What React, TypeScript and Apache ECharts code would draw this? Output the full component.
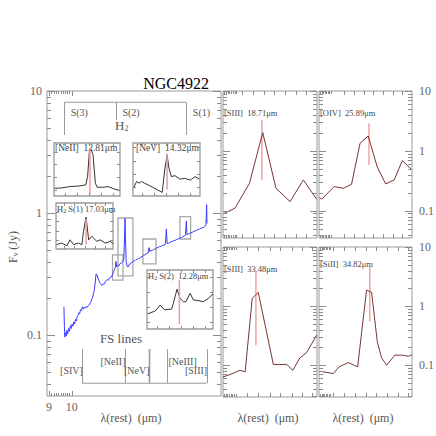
import { useEffect, useRef } from "react";
import * as echarts from "echarts";

const FONT = "'Liberation Serif', 'DejaVu Serif', serif";
const TICK = "#8c8c8c";
const BORDER = "#9a9a9a";
const LABEL = "#666";

// ---------- main IRS spectrum: [rest wavelength (um), F_nu (Jy)]
const spectrum: [number, number][] = [
  [9.65, 0.17], [9.67, 0.118], [9.69, 0.096], [9.72, 0.104], [9.75, 0.098], [9.78, 0.109], [9.82, 0.102],
  [9.86, 0.113], [9.9, 0.107], [9.94, 0.119], [9.98, 0.113], [10.02, 0.123], [10.06, 0.118], [10.1, 0.128],
  [10.14, 0.123], [10.18, 0.134], [10.22, 0.13], [10.26, 0.141], [10.3, 0.144], [10.34, 0.152], [10.38, 0.149],
  [10.42, 0.161], [10.46, 0.158], [10.51, 0.17], [10.55, 0.163], [10.6, 0.169], [10.65, 0.166], [10.7, 0.171],
  [10.75, 0.168], [10.8, 0.174], [10.85, 0.176], [10.9, 0.183], [10.95, 0.189], [11.0, 0.199], [11.05, 0.21],
  [11.1, 0.229], [11.15, 0.262], [11.2, 0.316], [11.25, 0.312], [11.3, 0.293], [11.35, 0.28], [11.4, 0.268],
  [11.45, 0.263], [11.5, 0.255], [11.55, 0.257], [11.6, 0.264], [11.65, 0.262], [11.7, 0.275], [11.75, 0.281],
  [11.8, 0.284], [11.85, 0.28], [11.9, 0.291], [11.95, 0.294], [12.0, 0.302], [12.05, 0.3], [12.1, 0.318],
  [12.15, 0.332], [12.2, 0.344], [12.25, 0.358], [12.28, 0.4], [12.32, 0.362], [12.38, 0.371], [12.45, 0.368],
  [12.52, 0.385], [12.6, 0.389], [12.68, 0.399], [12.74, 0.42], [12.78, 0.6], [12.81, 0.905], [12.84, 0.62],
  [12.88, 0.4], [12.94, 0.364], [13.0, 0.361], [13.06, 0.379], [13.12, 0.38], [13.18, 0.392], [13.25, 0.394],
  [13.32, 0.404], [13.4, 0.406], [13.48, 0.416], [13.56, 0.415], [13.64, 0.424], [13.72, 0.426], [13.8, 0.438],
  [13.88, 0.44], [13.96, 0.45], [14.04, 0.452], [14.12, 0.462], [14.2, 0.466], [14.26, 0.472], [14.32, 0.52],
  [14.37, 0.484], [14.45, 0.492], [14.55, 0.493], [14.65, 0.504], [14.75, 0.508], [14.85, 0.518], [14.95, 0.522],
  [15.05, 0.532], [15.15, 0.534], [15.25, 0.542], [15.35, 0.546], [15.45, 0.555], [15.52, 0.74], [15.58, 0.56],
  [15.68, 0.563], [15.8, 0.577], [15.92, 0.58], [16.04, 0.592], [16.16, 0.596], [16.28, 0.607], [16.4, 0.612],
  [16.52, 0.624], [16.64, 0.628], [16.76, 0.642], [16.88, 0.646], [16.96, 0.662], [17.03, 0.86], [17.08, 0.666],
  [17.2, 0.67], [17.35, 0.687], [17.5, 0.693], [17.65, 0.71], [17.8, 0.716], [17.95, 0.73], [18.1, 0.738],
  [18.25, 0.754], [18.4, 0.758], [18.55, 0.774], [18.65, 0.8], [18.71, 1.17], [18.74, 0.82],
];

// ---------- line identifications
const h2Names = ["S(3)", "S(2)", "S(1)"];
const h2Wl = [9.66, 12.28, 17.03];
const fsNames = ["[SIV]", "[NeII]", "[NeV]", "[NeIII]", "[SIII]"];
const fsWl = [10.51, 12.81, 14.32, 15.56, 18.71];

// ---------- extraction boxes drawn on the main spectrum
const boxWlLo = [12.09, 12.4, 13.92, 16.53];
const boxWlHi = [12.69, 13.29, 14.79, 17.37];
const boxFluxLo = [0.282, 0.305, 0.382, 0.612];
const boxFluxHi = [0.453, 0.91, 0.612, 0.933];

// ---------- inset profiles (main panel)
const neIIWl = [12.22, 12.33, 12.47, 12.64, 12.74, 12.77, 12.8, 12.82, 12.86, 12.9, 12.93, 13.03, 13.11, 13.2, 13.31];
const neIIFlux = [0.42, 0.424, 0.44, 0.448, 0.46, 0.557, 0.852, 0.891, 0.812, 0.479, 0.432, 0.432, 0.44, 0.416, 0.393];
const neVWl = [13.77, 13.82, 13.86, 13.9, 13.95, 14.01, 14.08, 14.16, 14.24, 14.28, 14.32, 14.35, 14.39, 14.45, 14.53, 14.61, 14.7, 14.78, 14.85];
const neVFlux = [0.458, 0.473, 0.469, 0.473, 0.469, 0.465, 0.46, 0.454, 0.448, 0.499, 0.533, 0.503, 0.484, 0.486, 0.478, 0.48, 0.476, 0.484, 0.478];
const h2s1Wl = [16.46, 16.56, 16.66, 16.72, 16.79, 16.88, 16.95, 16.98, 17.03, 17.08, 17.14, 17.24, 17.3, 17.4, 17.5, 17.55];
const h2s1Flux = [0.699, 0.706, 0.694, 0.72, 0.699, 0.706, 0.699, 0.755, 0.819, 0.72, 0.735, 0.713, 0.72, 0.706, 0.713, 0.703];
const h2s2Wl = [11.75, 11.88, 11.96, 12.03, 12.15, 12.18, 12.24, 12.29, 12.35, 12.39, 12.46, 12.51, 12.59, 12.68, 12.76, 12.84];
const h2s2Flux = [0.341, 0.349, 0.365, 0.352, 0.354, 0.37, 0.408, 0.383, 0.374, 0.374, 0.397, 0.379, 0.377, 0.374, 0.383, 0.395];

// ---------- right-hand panels
const sIII19Wl = [17.8, 18.08, 18.42, 18.73, 19.04, 19.37, 19.68, 19.99];
const sIII19Flux = [0.0885, 0.11, 0.288, 2.02, 0.237, 0.142, 0.327, 0.156];
const oIVWl = [24.61, 24.67, 24.99, 25.23, 25.44, 25.66, 25.87, 26.1, 26.32, 26.54, 26.75, 27.0];
const oIVFlux = [0.166, 0.156, 0.253, 0.237, 0.277, 1.34, 1.77, 0.545, 0.28, 0.327, 0.687, 0.48];
const sIII33Wl = [32.5, 32.71, 33.01, 33.16, 33.37, 33.55, 34.0, 34.4, 34.58, 34.79, 34.99, 35.29];
const sIII33Flux = [0.0634, 0.0695, 0.0822, 0.0771, 1.35, 1.71, 0.103, 0.103, 0.0822, 0.133, 0.164, 0.322];
const siIIWl = [33.43, 33.8, 33.96, 34.22, 34.48, 34.73, 34.87, 35.03, 35.15, 35.29, 35.52, 35.73, 35.9, 36.0];
const siIIFlux = [0.0791, 0.0723, 0.0937, 0.111, 0.0937, 1.87, 1.71, 0.248, 0.133, 0.1, 0.148, 0.148, 0.142, 0.15];

// ---------- tick values
const logMajor = [0.1, 1, 10];
const logMinor = [0.03, 0.04, 0.05, 0.06, 0.07, 0.08, 0.09, 0.2, 0.3, 0.4, 0.5, 0.6, 0.7, 0.8, 0.9, 2, 3, 4, 5, 6, 7, 8, 9];
const mainXMajor = [9, 10];
const mainXMinor = [9.1, 9.2, 9.3, 9.4, 9.5, 9.6, 9.7, 9.8, 9.9];
const mainXLabels = ["9", "10"];
const mainYLabels = ["0.1", "1", "10"];

type Panel = {
  rect: number[]; xType: string; xMin: number; xMax: number; yType: string; yMin: number; yMax: number;
  bg?: string; xTicks: number[]; xBlock: number[]; yTicks: number[];
};

const panels: Panel[] = [
  { rect: [47, 91, 174, 305], xType: "log", xMin: 8.92, xMax: 20, yType: "log", yMin: 0.0316, yMax: 10, xTicks: [], xBlock: [], yTicks: [] },
  { rect: [54, 143, 66, 53], xType: "value", xMin: 12.21, xMax: 13.31, yType: "value", yMin: 0.33, yMax: 0.95, bg: "#fff", xTicks: [12.4, 12.6, 12.8, 13.0, 13.2], xBlock: [], yTicks: [0.4, 0.55, 0.7, 0.85] },
  { rect: [133, 143, 67, 53], xType: "value", xMin: 13.76, xMax: 14.86, yType: "value", yMin: 0.44, yMax: 0.56, bg: "#fff", xTicks: [13.9, 14.1, 14.3, 14.5, 14.7], xBlock: [], yTicks: [0.46, 0.49, 0.52, 0.55] },
  { rect: [56, 203, 57, 46], xType: "value", xMin: 16.45, xMax: 17.55, yType: "value", yMin: 0.68, yMax: 0.88, bg: "#fff", xTicks: [16.6, 16.8, 17.0, 17.2, 17.4], xBlock: [], yTicks: [0.72, 0.76, 0.8, 0.84] },
  { rect: [147, 270, 66, 59], xType: "value", xMin: 11.74, xMax: 12.84, yType: "value", yMin: 0.3, yMax: 0.46, bg: "#fff", xTicks: [11.9, 12.1, 12.3, 12.5, 12.7], xBlock: [], yTicks: [0.32, 0.36, 0.4, 0.44] },
  { rect: [223, 91, 94, 147], xType: "value", xMin: 17.8, xMax: 20.0, yType: "log", yMin: 0.035, yMax: 10, xTicks: [18.25, 18.5, 18.75, 19.0, 19.25, 19.5, 19.75], xBlock: [17.83, 17.87, 17.91, 17.95, 17.99, 18.03, 18.07, 18.11], yTicks: [] },
  { rect: [319, 91, 93, 147], xType: "value", xMin: 24.6, xMax: 27.0, yType: "log", yMin: 0.035, yMax: 10, xTicks: [25.25, 25.5, 25.75, 26.0, 26.25, 26.5, 26.75], xBlock: [24.63, 24.67, 24.71, 24.75, 24.79, 24.83, 24.87, 24.91], yTicks: [] },
  { rect: [223, 247, 94, 150], xType: "value", xMin: 32.5, xMax: 35.3, yType: "log", yMin: 0.029, yMax: 10, xTicks: [33.2, 33.55, 33.9, 34.2, 34.55, 34.85, 35.15], xBlock: [32.53, 32.58, 32.63, 32.68, 32.73, 32.78, 32.83, 32.88], yTicks: [] },
  { rect: [319, 247, 93, 150], xType: "value", xMin: 33.4, xMax: 36.0, yType: "log", yMin: 0.029, yMax: 10, xTicks: [33.8, 34.1, 34.4, 34.7, 35.0, 35.3, 35.6, 35.9], xBlock: [33.43, 33.47, 33.51, 33.55, 33.59, 33.63, 33.67, 33.71], yTicks: [] },
];

const txtStyle = (text: string, size: number, color: string, align: string, vAlign = "middle", extra: any = {}) => ({
  text, fill: color, font: `${size}px ${FONT}`, fontSize: size, fontFamily: FONT,
  align, textAlign: align, verticalAlign: vAlign, textVerticalAlign: vAlign, ...extra,
});

function tickSeries(gi: number, p: Panel, xt: number[][], yt: number[][]) {
  const data = xt.map((t) => [t[0], p.yMin, t[1], 0]).concat(yt.map((t) => [p.xMin, t[0], t[1], 1]));
  return {
    type: "custom", xAxisIndex: gi, yAxisIndex: gi, data, silent: true, z: 10, clip: false,
    renderItem: (params: any, api: any) => {
      const cs = params.coordSys;
      const pt = api.coord([api.value(0), api.value(1)]);
      const len = api.value(2);
      const style = { stroke: TICK, lineWidth: 1, fill: null };
      if (api.value(3) === 0) {
        const x = Math.round(pt[0]) + 0.5;
        const b = cs.y + cs.height;
        return { type: "group", children: [
          { type: "line", shape: { x1: x, y1: b, x2: x, y2: b - len }, style },
          { type: "line", shape: { x1: x, y1: cs.y, x2: x, y2: cs.y + len }, style },
        ] };
      }
      const y = Math.round(pt[1]) + 0.5;
      const r = cs.x + cs.width;
      return { type: "group", children: [
        { type: "line", shape: { x1: cs.x, y1: y, x2: cs.x + len, y2: y }, style },
        { type: "line", shape: { x1: r, y1: y, x2: r - len, y2: y }, style },
      ] };
    },
  };
}

// labels anchored to data coordinates; placed through chart.convertToPixel
type Lbl = { gi: number; v: number[]; text: string; dx: number; dy: number; align: string; size: number; color: string };

function lineSeries(gi: number, data: number[][], color: string, width: number, z = 3) {
  return {
    type: "line", xAxisIndex: gi, yAxisIndex: gi, data, showSymbol: false, symbol: "none", silent: true, z,
    lineStyle: { color, width }, clip: false,
  };
}

const zip = (a: number[], b: number[]) => a.map((v, i) => [v, b[i]]);

const H2_TOP = 8.08, H2_LAB = 6.71;
const h2Bottom = [4.36, 5.78, 4.36];
const FS_BOT = 0.0402, FS_TOP = 0.0768;
const fsLabelF = [0.0507, 0.0601, 0.0507, 0.0601, 0.0507];
const fsAlign = ["right", "right", "right", "left", "right"];

function buildOption() {
  const grid: any[] = [];
  const xAxis: any[] = [];
  const yAxis: any[] = [];
  const series: any[] = [];
  panels.forEach((p, i) => {
    grid.push({
      left: p.rect[0], top: p.rect[1], width: p.rect[2], height: p.rect[3], show: true,
      borderColor: BORDER, borderWidth: i >= 1 && i <= 4 ? 1.3 : 1, backgroundColor: p.bg || "transparent",
    });
    xAxis.push({ type: p.xType, gridIndex: i, min: p.xMin, max: p.xMax, show: false, logBase: 10 });
    yAxis.push({ type: p.yType, gridIndex: i, min: p.yMin, max: p.yMax, show: false, logBase: 10 });
  });

  // ---- main panel
  series.push(lineSeries(0, spectrum, "#3a3aff", 1, 4));
  series.push({
    type: "custom", xAxisIndex: 0, yAxisIndex: 0, silent: true, z: 3,
    data: boxWlLo.map((w, i) => [w, boxFluxLo[i], boxWlHi[i], boxFluxHi[i]]),
    encode: { x: [0, 2], y: [1, 3] },
    renderItem: (params: any, api: any) => {
      const a = api.coord([api.value(0), api.value(1)]);
      const b = api.coord([api.value(2), api.value(3)]);
      return { type: "rect", shape: { x: a[0], y: b[1], width: b[0] - a[0], height: a[1] - b[1] },
        style: { stroke: "#a8a8a8", lineWidth: 1.3, fill: null } };
    },
  });
  // H2 bracket
  series.push(lineSeries(0, [[h2Wl[0], H2_TOP], [h2Wl[h2Wl.length - 1], H2_TOP]], BORDER, 1));
  series.push({
    type: "custom", xAxisIndex: 0, yAxisIndex: 0, silent: true, z: 5,
    data: h2Wl.map((w) => [w, H2_TOP]),
    renderItem: (params: any, api: any) => {
      const i = params.dataIndex;
      const a = api.coord([h2Wl[i], H2_TOP]);
      const b = api.coord([h2Wl[i], h2Bottom[i]]);
      const x = Math.round(a[0]) + 0.5;
      return { type: "line", shape: { x1: x, y1: a[1], x2: x, y2: b[1] }, style: { stroke: BORDER, lineWidth: 1 } };
    },
  });
  // FS bracket
  series.push(lineSeries(0, [[fsWl[0], FS_BOT], [fsWl[fsWl.length - 1], FS_BOT]], BORDER, 1));
  series.push({
    type: "custom", xAxisIndex: 0, yAxisIndex: 0, silent: true, z: 5,
    data: fsWl.map((w) => [w, FS_BOT]),
    renderItem: (params: any, api: any) => {
      const i = params.dataIndex;
      const a = api.coord([fsWl[i], FS_BOT]);
      const b = api.coord([fsWl[i], FS_TOP]);
      const x = Math.round(a[0]) + 0.5;
      return { type: "line", shape: { x1: x, y1: a[1], x2: x, y2: b[1] }, style: { stroke: BORDER, lineWidth: i === 2 ? 1.6 : 1 } };
    },
  });

  // ---- insets
  const insetData = [
    { wl: neIIWl, fl: neIIFlux, c: 12.81, lo: 0.354, hi: 0.891 },
    { wl: neVWl, fl: neVFlux, c: 14.32, lo: 0.455, hi: 0.536 },
    { wl: h2s1Wl, fl: h2s1Flux, c: 17.03, lo: 0.699, hi: 0.812 },
    { wl: h2s2Wl, fl: h2s2Flux, c: 12.28, lo: 0.313, hi: 0.433 },
  ];
  insetData.forEach((d, k) => {
    const gi = k + 1;
    series.push(lineSeries(gi, zip(d.wl, d.fl), "#333", 1, 3));
    series.push(lineSeries(gi, [[d.c, d.lo], [d.c, d.hi]], "#f29a9a", 1.5, 4));
  });

  // ---- right panels
  const rightData = [
    { wl: sIII19Wl, fl: sIII19Flux, c: 18.71, lo: 0.327, hi: 3.28 },
    { wl: oIVWl, fl: oIVFlux, c: 25.89, lo: 0.582, hi: 2.89 },
    { wl: sIII33Wl, fl: sIII33Flux, c: 33.48, lo: 0.218, hi: 3.82 },
    { wl: siIIWl, fl: siIIFlux, c: 34.82, lo: 0.557, hi: 4.64 },
  ];
  rightData.forEach((d, k) => {
    const gi = k + 5;
    series.push(lineSeries(gi, [[d.c, d.lo], [d.c, d.hi]], "#f4a3a3", 1.5, 3));
    series.push(lineSeries(gi, zip(d.wl, d.fl), "#7b3434", 1, 4));
  });

  // ---- ticks
  panels.forEach((p, i) => {
    let xt: number[][] = [];
    let yt: number[][] = [];
    if (i === 0) {
      xt = mainXMajor.map((v) => [v, 5]).concat(mainXMinor.map((v) => [v, 3]));
      yt = logMajor.map((v) => [v, 8]).concat(logMinor.filter((v) => v > p.yMin).map((v) => [v, 4]));
    } else if (p.yType === "log") {
      xt = p.xTicks.map((v) => [v, 4]).concat(p.xBlock.map((v) => [v, 3]));
      yt = logMajor.map((v) => [v, 7]).concat(logMinor.filter((v) => v > p.yMin).map((v) => [v, 4]));
    } else {
      xt = p.xTicks.map((v) => [v, 3]);
      yt = p.yTicks.map((v) => [v, 3]);
    }
    series.push(tickSeries(i, p, xt, yt));
  });

  return { animation: false, grid, xAxis, yAxis, series };
}

function dataLabels(): Lbl[] {
  const p0 = panels[0];
  const out: Lbl[] = [];
  logMajor.forEach((v, i) => out.push({ gi: 0, v: [p0.xMin, v], text: mainYLabels[i], dx: -5, dy: 0, align: "right", size: 12, color: LABEL }));
  mainXMajor.forEach((v, i) => out.push({ gi: 0, v: [v, p0.yMin], text: mainXLabels[i], dx: 0, dy: 11, align: "center", size: 12, color: LABEL }));
  [6, 8].forEach((gi) => {
    const p = panels[gi];
    logMajor.forEach((v, i) => out.push({ gi, v: [p.xMax, v], text: mainYLabels[i], dx: 7, dy: 0, align: "left", size: 12, color: LABEL }));
  });
  h2Wl.forEach((w, i) => out.push({ gi: 0, v: [w, H2_LAB], text: h2Names[i], dx: 6.5, dy: 0, align: "left", size: 10, color: "#555" }));
  fsWl.forEach((w, i) => out.push({ gi: 0, v: [w, fsLabelF[i]], text: fsNames[i], dx: fsAlign[i] === "left" ? 1.5 : 0.5, dy: 0, align: fsAlign[i], size: 10, color: "#555" }));
  return out;
}

function staticGraphic(): any[] {
  const sub = { a: { fontSize: 13, fontFamily: FONT, fill: "#555" }, s: { fontSize: 8, fontFamily: FONT, fill: "#555", verticalAlign: "bottom", padding: [6, 0, 0, 0] } };
  const subSmall = { a: { fontSize: 8.5, fontFamily: FONT, fill: "#444" }, s: { fontSize: 6, fontFamily: FONT, fill: "#444", verticalAlign: "bottom" } };
  return [
    { type: "text", x: 209, y: 83, style: txtStyle("NGC4922", 16, "#000", "right") },
    { type: "text", x: 115, y: 125, style: txtStyle("{a|H}{s|2}", 13, "#555", "left", "middle", { rich: sub }) },
    { type: "text", x: 121, y: 338, style: txtStyle("FS lines", 13, "#555", "center") },
    { type: "text", x: 13, y: 247, rotation: Math.PI / 2,
      style: txtStyle("{a|F}{s|ν} {a|(Jy)}", 12, "#555", "center", "middle", { rich: { a: { fontSize: 12, fontFamily: FONT, fill: "#555" }, s: { fontSize: 8, fontFamily: FONT, fill: "#555", verticalAlign: "bottom" } } }) },
    { type: "text", x: 131, y: 418, style: txtStyle("λ(rest)  (μm)", 12, "#555", "center") },
    { type: "text", x: 268, y: 418, style: txtStyle("λ(rest)  (μm)", 12, "#555", "center") },
    { type: "text", x: 363, y: 418, style: txtStyle("λ(rest)  (μm)", 12, "#555", "center") },
    { type: "text", x: 55, y: 148, style: txtStyle("[NeII]  12.81μm", 9.5, "#444", "left") },
    { type: "text", x: 136, y: 148, style: txtStyle("[NeV]  14.32μm", 9.5, "#444", "left") },
    { type: "text", x: 57, y: 209, style: txtStyle("{a|H}{s|2}{a| S(1) 17.03μm}", 8.5, "#444", "left", "middle", { rich: subSmall }) },
    { type: "text", x: 148, y: 276, style: txtStyle("{a|H}{s|2}{a| S(2)  12.28μm}", 8.5, "#444", "left", "middle", { rich: subSmall }) },
    { type: "text", x: 224, y: 113, style: txtStyle("[SIII]  18.71μm", 8.5, "#444", "left") },
    { type: "text", x: 320, y: 113, style: txtStyle("[OIV]  25.89μm", 8.5, "#444", "left") },
    { type: "text", x: 224, y: 269, style: txtStyle("[SIII]  33.48μm", 8.5, "#444", "left") },
    { type: "text", x: 320, y: 264, style: txtStyle("[SiII]  34.82μm", 8.5, "#444", "left") },
  ];
}

export default function App() {
  const ref = useRef<HTMLDivElement>(null);
  useEffect(() => {
    const chart = echarts.init(ref.current as HTMLDivElement, null, { renderer: "svg" });
    chart.setOption(buildOption() as any);
    const placed = dataLabels().map((it) => {
      const pt = chart.convertToPixel({ xAxisIndex: it.gi, yAxisIndex: it.gi } as any, it.v) as number[];
      return { type: "text", x: pt[0] + it.dx, y: pt[1] + it.dy, z: 20, style: txtStyle(it.text, it.size, it.color, it.align) };
    });
    chart.setOption({ graphic: staticGraphic().concat(placed) } as any);
    return () => chart.dispose();
  }, []);
  return <div ref={ref} style={{ position: "absolute", left: 0, top: 0, width: 436, height: 436, background: "#fff" }} />;
}
